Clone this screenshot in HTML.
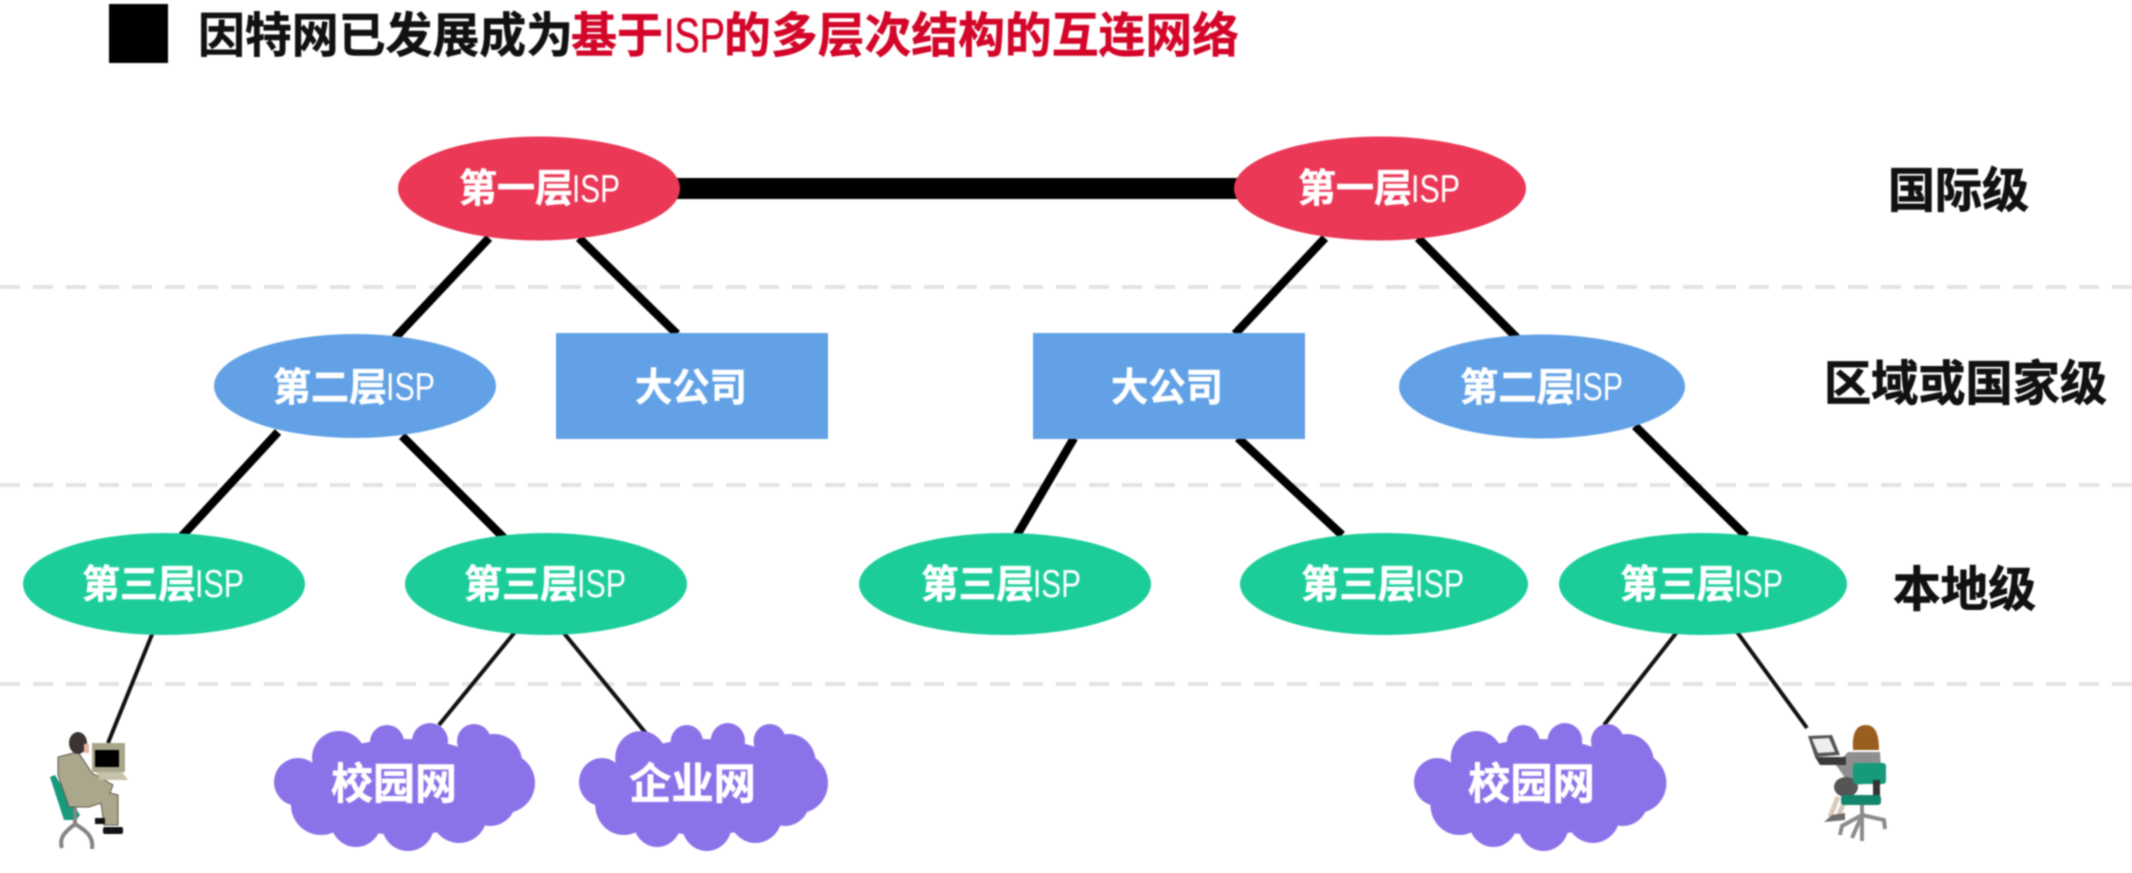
<!DOCTYPE html>
<html lang="zh">
<head>
<meta charset="utf-8">
<title>因特网已发展成为基于ISP的多层次结构的互连网络</title>
<style>
html,body{margin:0;padding:0;background:#fff;width:2132px;height:873px;overflow:hidden}
svg{display:block;filter:blur(.7px)}
.c{font-family:"Liberation Sans","Noto Sans CJK SC",sans-serif;font-weight:700;stroke-width:.5}
.n{font-size:39px;fill:#fff;stroke:#fff}
.i{font-family:"Liberation Sans",sans-serif;font-size:39px;fill:#fff}
.l{font-size:48px;fill:#111;stroke:#111;stroke-width:.8}
.d{stroke:#e3e3e3;stroke-width:4;stroke-dasharray:20 13}
.k{stroke:#000;stroke-width:8.500}
.t{stroke:#111;stroke-width:4}
</style>
</head>
<body>
<svg width="2132" height="873" viewBox="0 0 2132 873" xmlns="http://www.w3.org/2000/svg">
<defs>
<g id="cloud" fill="#8c72e8">
<ellipse cx="404" cy="787" rx="100" ry="48"/>
<circle cx="387" cy="742" r="17"/><circle cx="430" cy="741" r="18"/><circle cx="474" cy="741" r="17"/>
<circle cx="339" cy="758" r="27"/><circle cx="494" cy="762" r="28"/><circle cx="298" cy="782" r="24"/>
<circle cx="505" cy="783" r="30"/><circle cx="321" cy="805" r="30"/><circle cx="356" cy="822" r="25"/>
<circle cx="408" cy="825" r="26"/><circle cx="459" cy="815" r="28"/><circle cx="490" cy="800" r="26"/>
</g>
</defs>

<!-- dashed separators -->
<line class="d" x1="0" y1="287" x2="2132" y2="287"/>
<line class="d" x1="0" y1="485" x2="2132" y2="485"/>
<line class="d" x1="0" y1="684" x2="2132" y2="684"/>

<!-- title -->
<rect x="109" y="4" width="59" height="59" fill="#000"/>
<text class="c" x="198" y="52" font-size="48" fill="#111" stroke="#111" textLength="375" lengthAdjust="spacingAndGlyphs">因特网已发展成为</text>
<text class="c" x="571" y="52" font-size="48" fill="#d3062a" stroke="#d3062a" textLength="92" lengthAdjust="spacingAndGlyphs">基于</text>
<text x="664" y="52" font-family="Liberation Sans,sans-serif" font-size="48" fill="#d3062a" stroke="#d3062a" stroke-width=".6" textLength="61" lengthAdjust="spacingAndGlyphs">ISP</text>
<text class="c" x="724" y="52" font-size="48" fill="#d3062a" stroke="#d3062a" textLength="515" lengthAdjust="spacingAndGlyphs">的多层次结构的互连网络</text>

<!-- connectors -->
<rect x="670" y="178" width="575" height="21" fill="#000"/>
<line class="k" x1="489" y1="238" x2="395" y2="338"/>
<line class="k" x1="579" y1="238" x2="677" y2="334"/>
<line class="k" x1="1325" y1="238" x2="1235" y2="334"/>
<line class="k" x1="1418" y1="238" x2="1517" y2="338"/>
<line class="k" x1="278" y1="432" x2="182" y2="536"/>
<line class="k" x1="402" y1="436" x2="504" y2="538"/>
<line class="k" x1="1074" y1="438" x2="1017" y2="535"/>
<line class="k" x1="1238" y1="438" x2="1342" y2="535"/>
<line class="k" x1="1635" y1="426" x2="1746" y2="536"/>
<line class="t" x1="153" y1="632" x2="108" y2="743"/>
<line class="t" x1="515" y1="632" x2="439" y2="725"/>
<line class="t" x1="563" y1="632" x2="649" y2="737"/>
<line class="t" x1="1677" y1="632" x2="1604" y2="725"/>
<line class="t" x1="1737" y1="632" x2="1807" y2="728"/>

<!-- tier 1 -->
<ellipse cx="539" cy="188.500" rx="141" ry="52" fill="#ea3856"/>
<ellipse cx="1380" cy="188.500" rx="146" ry="52" fill="#ea3856"/>
<text class="c n" x="459" y="202" textLength="114" lengthAdjust="spacingAndGlyphs">第一层</text>
<text class="i" x="572" y="202" textLength="48" lengthAdjust="spacingAndGlyphs">ISP</text>
<text class="c n" x="1298" y="202" textLength="114" lengthAdjust="spacingAndGlyphs">第一层</text>
<text class="i" x="1411" y="202" textLength="49" lengthAdjust="spacingAndGlyphs">ISP</text>

<!-- tier 2 -->
<ellipse cx="355" cy="386" rx="141" ry="52" fill="#62a1e6"/>
<ellipse cx="1542" cy="386.500" rx="143" ry="52" fill="#62a1e6"/>
<rect x="556" y="333" width="272" height="106" fill="#62a1e6"/>
<rect x="1033" y="333" width="272" height="106" fill="#62a1e6"/>
<text class="c n" x="273" y="401" textLength="114" lengthAdjust="spacingAndGlyphs">第二层</text>
<text class="i" x="386" y="400" textLength="49" lengthAdjust="spacingAndGlyphs">ISP</text>
<text class="c n" x="1460" y="401" textLength="115" lengthAdjust="spacingAndGlyphs">第二层</text>
<text class="i" x="1574" y="400" textLength="49" lengthAdjust="spacingAndGlyphs">ISP</text>
<text class="c n" x="635" y="401" textLength="112" lengthAdjust="spacingAndGlyphs">大公司</text>
<text class="c n" x="1111" y="401" textLength="112" lengthAdjust="spacingAndGlyphs">大公司</text>

<!-- tier 3 -->
<ellipse cx="164" cy="584" rx="141" ry="51" fill="#1ccd9a"/>
<ellipse cx="546" cy="584" rx="141" ry="51" fill="#1ccd9a"/>
<ellipse cx="1005" cy="584" rx="146" ry="51" fill="#1ccd9a"/>
<ellipse cx="1384" cy="584" rx="144" ry="51" fill="#1ccd9a"/>
<ellipse cx="1703" cy="584" rx="144" ry="51" fill="#1ccd9a"/>
<text class="c n" x="82" y="598" textLength="114" lengthAdjust="spacingAndGlyphs">第三层</text>
<text class="i" x="195" y="597" textLength="49" lengthAdjust="spacingAndGlyphs">ISP</text>
<text class="c n" x="464" y="598" textLength="114" lengthAdjust="spacingAndGlyphs">第三层</text>
<text class="i" x="577" y="597" textLength="49" lengthAdjust="spacingAndGlyphs">ISP</text>
<text class="c n" x="921" y="598" textLength="113" lengthAdjust="spacingAndGlyphs">第三层</text>
<text class="i" x="1033" y="597" textLength="48" lengthAdjust="spacingAndGlyphs">ISP</text>
<text class="c n" x="1301" y="598" textLength="115" lengthAdjust="spacingAndGlyphs">第三层</text>
<text class="i" x="1415" y="597" textLength="49" lengthAdjust="spacingAndGlyphs">ISP</text>
<text class="c n" x="1620" y="598" textLength="115" lengthAdjust="spacingAndGlyphs">第三层</text>
<text class="i" x="1734" y="597" textLength="49" lengthAdjust="spacingAndGlyphs">ISP</text>

<!-- clouds -->
<use href="#cloud"/>
<g transform="translate(579 0) scale(.954 1) translate(-274 0)"><use href="#cloud"/></g>
<g transform="translate(1414 0) scale(.967 1) translate(-274 0)"><use href="#cloud"/></g>
<text class="c" x="331" y="799" font-size="43" fill="#fff" stroke="#fff" textLength="126" lengthAdjust="spacingAndGlyphs">校园网</text>
<text class="c" x="629" y="799" font-size="43" fill="#fff" stroke="#fff" textLength="127" lengthAdjust="spacingAndGlyphs">企业网</text>
<text class="c" x="1468" y="799" font-size="43" fill="#fff" stroke="#fff" textLength="127" lengthAdjust="spacingAndGlyphs">校园网</text>

<!-- tier labels -->
<text class="c l" x="1888" y="207" textLength="141" lengthAdjust="spacingAndGlyphs">国际级</text>
<text class="c l" x="1824" y="400" textLength="283" lengthAdjust="spacingAndGlyphs">区域或国家级</text>
<text class="c l" x="1893" y="606" textLength="143" lengthAdjust="spacingAndGlyphs">本地级</text>

<!-- person at desktop -->
<g>
<path d="M50 777 L55 775 L80 815 L76 820 L64 820 Z" fill="#169a7c"/>
<path d="M58 757 L78 752 L92 773 L113 785 L110 793 L118 795 L118 825 L104 825 L101 803 L89 807 L69 807 L58 775 Z" fill="#aba78c" stroke="#5d5a48" stroke-width="1"/>
<ellipse cx="78" cy="743" rx="9" ry="11" fill="#3a3532"/>
<rect x="84" y="744" width="5" height="9" fill="#e7b3a5"/>
<rect x="92" y="743" width="33" height="29" fill="#a9a58a"/>
<rect x="95" y="750" width="24" height="17" fill="#000"/>
<path d="M96 772 H122 L128 780 H100 Z" fill="#c5c2aa"/>
<rect x="103" y="827" width="20" height="7" rx="2" fill="#111"/>
<path d="M95 818 h10 v6 h-10 z" fill="#111"/>
<path d="M62 848 C58 836 68 830 75 824 C85 830 94 836 92 849 M75 808 V826" fill="none" stroke="#848484" stroke-width="4"/>
</g>

<!-- person at laptop -->
<g>
<path d="M1838 797 L1830 817 M1846 797 L1838 817" stroke="#d9c9bb" stroke-width="5"/>
<path d="M1824 822 L1832 815 L1845 813 L1845 820 Z" fill="#6c6c6c"/>
<path d="M1848 752 L1880 752 L1882 783 L1850 785 L1836 765 Z" fill="#8f8f8f"/>
<path d="M1853 750 C1852 735 1855 725 1866 725 C1877 725 1879 738 1879 750 Z" fill="#9a5f1e"/>
<path d="M1808 736 L1832 735 L1840 755 L1815 757 Z" fill="#555"/>
<path d="M1812 739 L1829 738 L1835 752 L1818 753 Z" fill="#eee"/>
<path d="M1815 757 H1846 V765 H1820 Z" fill="#3a3a3a"/>
<ellipse cx="1846" cy="787" rx="12" ry="10" fill="#555"/>
<rect x="1853" y="763" width="33" height="21" rx="3" fill="#169a7c"/>
<rect x="1873" y="780" width="7" height="20" fill="#333"/>
<rect x="1841" y="795" width="40" height="10" rx="3" fill="#12856b"/>
<path d="M1862 805 V841 M1862 815 L1842 826 L1840 835 M1862 815 L1884 820 L1885 829 M1862 815 L1852 838" fill="none" stroke="#8c8c8c" stroke-width="4"/>
</g>
</svg>
</body>
</html>
